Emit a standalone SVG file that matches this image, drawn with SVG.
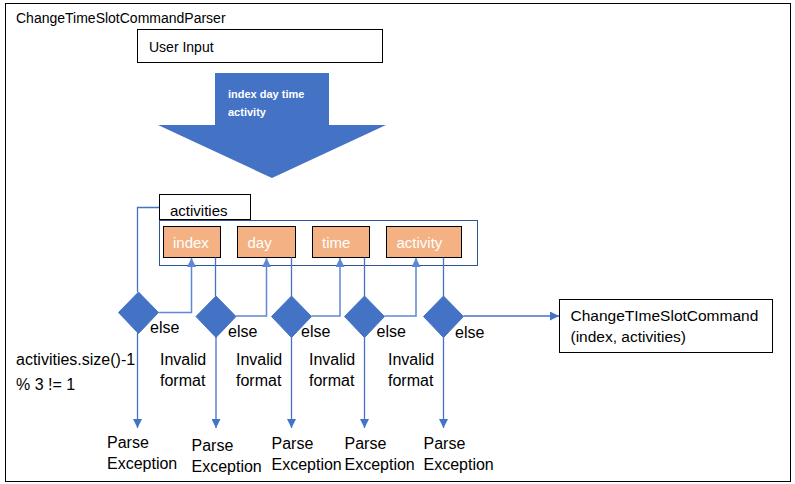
<svg xmlns="http://www.w3.org/2000/svg" width="795" height="484" viewBox="0 0 795 484">
<style>
text{font-family:"Liberation Sans",Arial,sans-serif;fill:#000}
.t14{font-size:14px}
.t15{font-size:15px}
.t16{font-size:16px}
.w{fill:#fff;font-size:15px}
.box{fill:#fff;stroke:#000;stroke-width:1}
.ob{fill:#F4B183;stroke:#000;stroke-width:1}
.dia{fill:#4472C4;stroke:#4472C4;stroke-width:1}
.ln{fill:none;stroke:#4472C4;stroke-width:1.3}
.up{fill:none;stroke:#5F88D2;stroke-width:1.5}
</style>
<defs>
<marker id="ah" markerUnits="userSpaceOnUse" markerWidth="10" markerHeight="9" refX="9" refY="4.5" orient="auto">
<path d="M0,0 L9,4.5 L0,9 z" fill="#4472C4"/>
</marker>
<marker id="ahu" markerUnits="userSpaceOnUse" markerWidth="10" markerHeight="9" refX="9" refY="4.5" orient="auto">
<path d="M0,0 L9,4.5 L0,9 z" fill="#5F88D2"/>
</marker>
</defs>
<rect x="0" y="0" width="795" height="484" fill="#fff"/>
<rect x="5.5" y="3.5" width="785" height="478" fill="none" stroke="#000" stroke-width="1"/>
<text class="t14" x="16" y="23">ChangeTimeSlotCommandParser</text>

<g id="user-input">
<rect class="box" x="137.5" y="29.5" width="245" height="33"/>
<text class="t14" x="149" y="52">User Input</text>
</g>

<g id="big-arrow">
<polygon points="215,73 329,73 329,125 386,125 272,178 158,125 215,125" fill="#4472C4"/>
<text x="228" y="98" style="font-size:11px;font-weight:bold;fill:#fff">index day time</text>
<text x="228" y="116" style="font-size:11px;font-weight:bold;fill:#fff">activity</text>
</g>

<g id="container">
<rect x="159.5" y="220.5" width="318" height="45" fill="none" stroke="#2F5597" stroke-width="1"/>
</g>
<g id="activities">
<rect class="box" x="159.5" y="194.5" width="91" height="25"/>
<text class="t15" x="170" y="215.5">activities</text>
</g>
<g id="index"><rect class="ob" x="163.5" y="226.5" width="57" height="31"/><text class="w" x="173" y="248">index</text></g>
<g id="day"><rect class="ob" x="237.5" y="226.5" width="58" height="31"/><text class="w" x="247.5" y="248">day</text></g>
<g id="time"><rect class="ob" x="312.5" y="226.5" width="57" height="31"/><text class="w" x="322" y="248">time</text></g>
<g id="activity"><rect class="ob" x="386.5" y="226.5" width="75" height="31"/><text class="w" x="396.5" y="248">activity</text></g>

<g id="d1"><polygon class="dia" points="138.5,292 158.5,312.5 138.5,333.5 118.5,312.5"/></g>
<g id="d2"><polygon class="dia" points="216,296 236,316.5 216,337.5 196,316.5"/></g>
<g id="d3"><polygon class="dia" points="291.5,296 311.5,316.5 291.5,337.5 271.5,316.5"/></g>
<g id="d4"><polygon class="dia" points="364.5,296 384.5,316.5 364.5,337.5 344.5,316.5"/></g>
<g id="d5"><polygon class="dia" points="443.5,296 463.5,316.5 443.5,337.5 423.5,316.5"/></g>

<g id="command">
<rect class="box" x="559.5" y="299.5" width="213" height="53"/>
<text x="570.5" y="321" style="font-size:15.5px">ChangeTImeSlotCommand</text>
<text x="570.5" y="342" style="font-size:15.5px">(index, activities)</text>
</g>

<g id="connectors">
<path class="ln" d="M159,207.5 H137.5 V292"/>
<path class="up" d="M158.5,312.5 H191.5 V258" marker-end="url(#ahu)"/>
<path class="ln" d="M215.5,257.5 V296"/>
<path class="up" d="M236,316 H266.5 V258" marker-end="url(#ahu)"/>
<path class="ln" d="M291.5,257.5 V296"/>
<path class="up" d="M311.5,316 H340 V258" marker-end="url(#ahu)"/>
<path class="ln" d="M364.5,257.5 V296"/>
<path class="up" d="M384.5,316 H416 V258" marker-end="url(#ahu)"/>
<path class="ln" d="M443.5,257.5 V296"/>
<path class="ln" d="M463.5,316 H559" marker-end="url(#ah)"/>
<path class="ln" d="M137.5,333 V428" marker-end="url(#ah)"/>
<path class="ln" d="M216,337 V428" marker-end="url(#ah)"/>
<path class="ln" d="M291.5,337 V428" marker-end="url(#ah)"/>
<path class="ln" d="M364.5,337 V428" marker-end="url(#ah)"/>
<path class="ln" d="M443.5,337 V428" marker-end="url(#ah)"/>
</g>

<g id="labels">
<text class="t16" x="150" y="333">else</text>
<text class="t16" x="228" y="337">else</text>
<text class="t16" x="301" y="337">else</text>
<text class="t16" x="376.5" y="337">else</text>
<text class="t16" x="455" y="338">else</text>
<text class="t16" x="16" y="365">activities.size()-1</text>
<text class="t16" x="16" y="390">% 3 != 1</text>
<text class="t16" x="160" y="365">Invalid</text><text class="t16" x="160" y="386">format</text>
<text class="t16" x="236" y="365">Invalid</text><text class="t16" x="236" y="386">format</text>
<text class="t16" x="309" y="365">Invalid</text><text class="t16" x="309" y="386">format</text>
<text class="t16" x="388" y="365">Invalid</text><text class="t16" x="388" y="386">format</text>
<text class="t16" x="107" y="448">Parse</text><text class="t16" x="107" y="469">Exception</text>
<text class="t16" x="191.5" y="451">Parse</text><text class="t16" x="191.5" y="472">Exception</text>
<text class="t16" x="271.5" y="449">Parse</text><text class="t16" x="271.5" y="470">Exception</text>
<text class="t16" x="344.5" y="449">Parse</text><text class="t16" x="344.5" y="470">Exception</text>
<text class="t16" x="423.5" y="449">Parse</text><text class="t16" x="423.5" y="470">Exception</text>
</g>
</svg>
